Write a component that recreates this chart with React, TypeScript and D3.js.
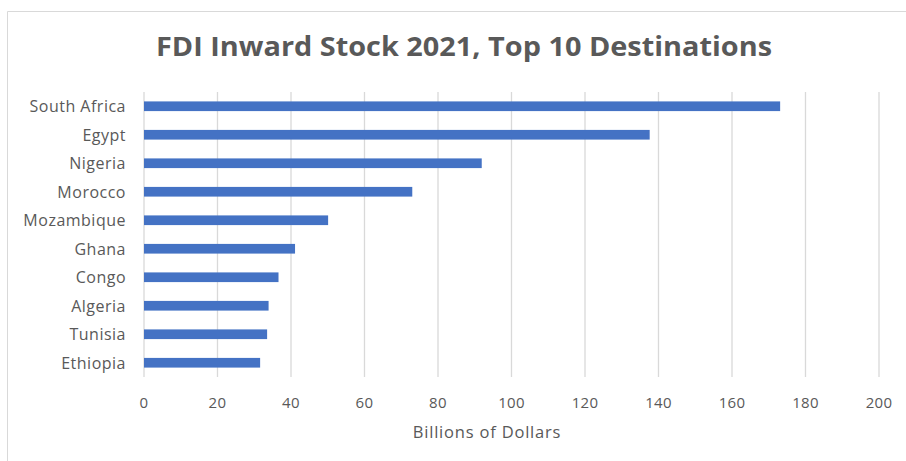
import React from "react";
import * as d3 from "d3";

const categories = ["South Africa", "Egypt", "Nigeria", "Morocco", "Mozambique", "Ghana", "Congo", "Algeria", "Tunisia", "Ethiopia"];
const values = [173.1, 137.6, 91.9, 73.0, 50.1, 41.1, 36.6, 33.9, 33.5, 31.6];
const xTicks = [0, 20, 40, 60, 80, 100, 120, 140, 160, 180, 200];
const title = "FDI Inward Stock 2021, Top 10 Destinations";
const xTitle = "Billions of Dollars";

const W = 906;
const H = 461;
const FONT = "'Open Sans', sans-serif";
const TEXT = "#595959";

export default function App() {
  const x = d3.scaleLinear().domain([0, 200]).range([144, 879]);
  const y = d3.scaleBand<string>().domain(categories).range([92, 377]).paddingInner(0.66).paddingOuter(0.33);

  return (
    <svg width={W} height={H} style={{ position: "absolute", left: 0, top: 0, background: "#fff" }} xmlns="http://www.w3.org/2000/svg">
      <rect x={0} y={0} width={W} height={H} fill="#fff" />
      <path d={`M7.5,${H} V11.5 H${W}`} fill="none" stroke="#d9d9d9" strokeWidth={1} />
      <text x={464} y={56} textAnchor="middle" fontFamily={FONT} fontWeight={700} fontSize={26.5} fill={TEXT} textLength={616} lengthAdjust="spacingAndGlyphs">{title}</text>
      {xTicks.map((t) => (
        <line key={"g" + t} x1={x(t)} x2={x(t)} y1={92} y2={377} stroke="#d9d9d9" strokeWidth={1.3} />
      ))}
      {categories.map((c, i) => (
        <rect key={c} x={x(0)} y={y(c)!} width={x(values[i]) - x(0)} height={y.bandwidth()} fill="#4472C4" />
      ))}
      {categories.map((c) => (
        <text key={"l" + c} x={126} y={y(c)! + y.bandwidth() / 2} dy="0.36em" textAnchor="end" fontFamily={FONT} fontSize={16} letterSpacing={0.5} fill={TEXT}>{c}</text>
      ))}
      {xTicks.map((t) => (
        <text key={"t" + t} x={x(t)} y={403} dy="0.36em" textAnchor="middle" fontFamily={FONT} fontSize={15} letterSpacing={0.3} fill={TEXT}>{t}</text>
      ))}
      <text x={487} y={432} dy="0.36em" textAnchor="middle" fontFamily={FONT} fontSize={16.5} letterSpacing={0.8} fill={TEXT}>{xTitle}</text>
    </svg>
  );
}
